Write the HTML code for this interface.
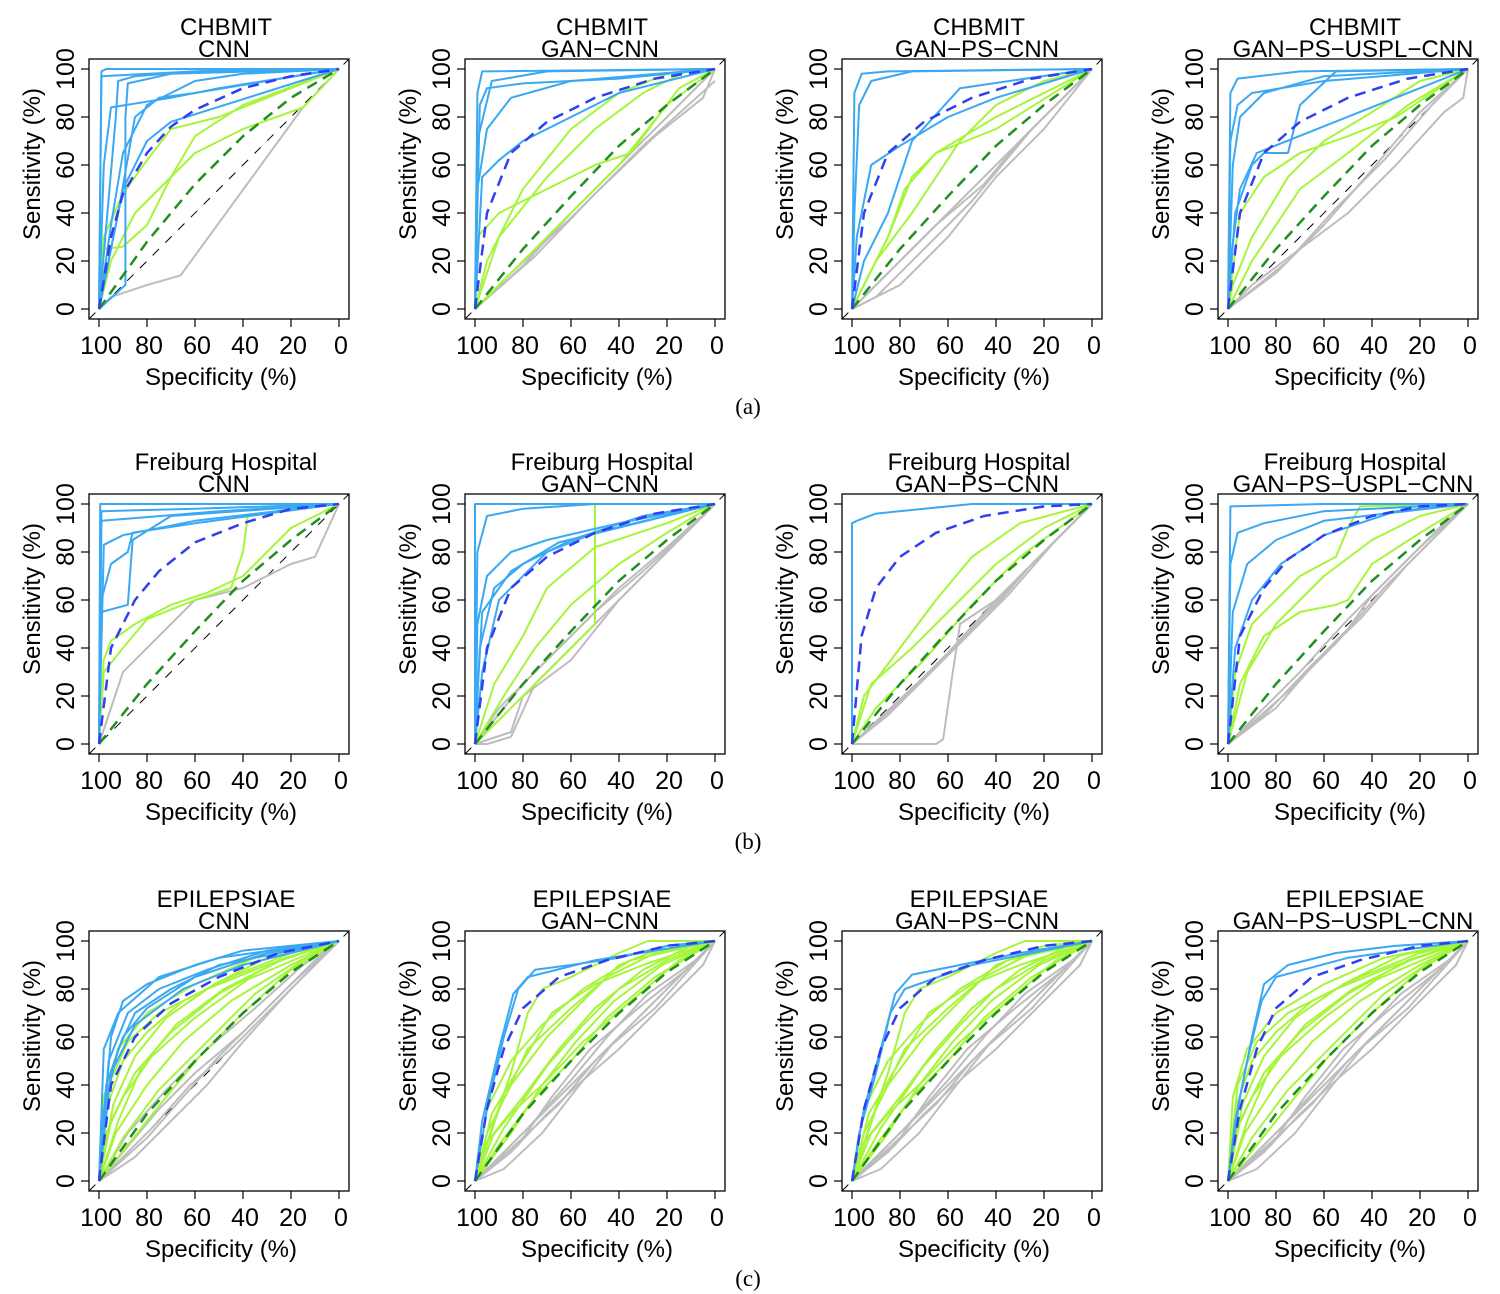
<!DOCTYPE html>
<html><head><meta charset="utf-8"><style>
html,body{margin:0;padding:0;background:#fff;}
svg{display:block;}
text{font-family:"Liberation Sans",sans-serif;fill:#000;}
</style></head><body>
<svg id="fig" width="1500" height="1294" viewBox="0 0 1500 1294" xmlns="http://www.w3.org/2000/svg"></svg>
<script>
const datasets = ["CHBMIT","Freiburg Hospital","EPILEPSIAE"];
const methods = ["CNN","GAN\u2212CNN","GAN\u2212PS\u2212CNN","GAN\u2212PS\u2212USPL\u2212CNN"];
const captions = ["(a)","(b)","(c)"];
const xTicks = [100,80,60,40,20,0];
const yTicks = [0,20,40,60,80,100];

// each curve: list of [specificity, sensitivity]
const blueA1 = [
 [[100,0],[99,99],[97,100],[0,100]],
 [[100,0],[99,97],[60,99],[0,100]],
 [[100,0],[93,80],[92,95],[85,97],[60,99],[0,100]],
 [[100,0],[89,10],[89,80],[88,94],[70,98],[0,100]],
 [[100,0],[98,60],[95,84],[70,88],[50,92],[0,100]],
 [[100,0],[95,35],[90,65],[80,85],[60,95],[40,98],[0,100]],
 [[100,0],[92,40],[85,80],[75,88],[60,90],[0,100]],
 [[100,0],[90,50],[80,70],[70,78],[0,100]]];
const greenA1 = [
 [[100,0],[98,30],[90,48],[80,62],[70,75],[50,80],[0,100]],
 [[100,0],[99,25],[90,26],[80,35],[70,55],[60,72],[40,85],[0,100]],
 [[100,0],[95,20],[85,40],[75,50],[60,65],[40,75],[15,84],[0,100]]];
const grayA1 = [[[100,0],[95,5],[80,10],[66,14],[15,84],[0,100]]];

const blueA2 = [
 [[100,0],[99,90],[97,99],[0,100]],
 [[100,0],[98,85],[95,92],[80,94],[40,96],[0,100]],
 [[100,0],[99,50],[95,75],[85,88],[60,95],[0,100]],
 [[100,0],[97,55],[90,62],[80,70],[60,80],[40,90],[0,100]],
 [[100,0],[99,70],[93,95],[70,99],[0,100]]];
const greenA2 = [
 [[100,0],[99,30],[90,40],[70,50],[50,60],[35,65],[15,92],[0,100]],
 [[100,0],[95,20],[80,50],[60,75],[40,90],[20,98],[0,100]],
 [[100,0],[90,30],[70,55],[50,75],[30,90],[10,100],[0,100]],
 [[100,0],[80,20],[60,40],[40,60],[20,85],[0,100]]];
const grayA2 = [
 [[100,0],[80,18],[60,40],[40,60],[20,80],[0,100]],
 [[100,0],[75,22],[50,48],[25,72],[5,88],[0,100]],
 [[100,0],[85,15],[60,38],[30,68],[0,95]]];

const blueA3 = [
 [[100,0],[99,90],[96,98],[85,99],[0,100]],
 [[100,0],[99,40],[97,85],[92,95],[75,99],[0,100]],
 [[100,0],[98,30],[92,60],[80,68],[60,80],[40,88],[0,100]],
 [[100,0],[95,20],[85,40],[75,70],[55,92],[0,100]]];
const greenA3 = [
 [[100,0],[95,10],[85,30],[78,50],[65,65],[40,75],[0,100]],
 [[100,0],[90,20],[75,40],[55,70],[40,85],[20,95],[0,100]],
 [[100,0],[85,30],[75,55],[65,65],[40,80],[0,100]]];
const grayA3 = [
 [[100,0],[80,10],[60,30],[40,55],[20,75],[0,100]],
 [[100,0],[85,15],[65,35],[45,52],[30,70],[0,100]],
 [[100,0],[75,25],[55,45],[35,65],[15,85],[0,100]],
 [[100,0],[90,5],[70,25],[50,45],[25,75],[0,100]]];

const blueA4 = [
 [[100,0],[99,90],[96,96],[70,99],[0,100]],
 [[100,0],[99,70],[96,85],[90,90],[60,95],[0,100]],
 [[100,0],[98,60],[95,80],[85,90],[60,97],[0,100]],
 [[100,0],[97,40],[90,60],[85,65],[75,65],[70,85],[55,99],[0,100]],
 [[100,0],[99,20],[95,50],[88,65],[0,100]]];
const greenA4 = [
 [[100,0],[95,40],[85,55],[70,65],[50,72],[30,80],[0,100]],
 [[100,0],[98,10],[90,30],[75,55],[60,70],[40,82],[20,95],[0,100]],
 [[100,0],[90,20],[70,50],[50,65],[25,85],[0,100]]];
const grayA4 = [
 [[100,0],[90,10],[70,25],[50,40],[30,60],[10,82],[2,88],[0,100]],
 [[100,0],[80,15],[60,35],[40,58],[20,82],[0,100]],
 [[100,0],[75,20],[55,42],[35,62],[15,85],[0,100]]];

const blueB1 = [
 [[100,0],[99.5,100],[0,100]],
 [[100,0],[99,97],[60,98],[0,100]],
 [[100,0],[99,93],[50,97],[0,100]],
 [[100,0],[98,83],[90,87],[60,93],[0,100]],
 [[100,0],[99,60],[95,75],[88,80],[86,88],[60,92],[0,100]],
 [[100,0],[99,55],[88,58],[86,85],[70,95],[0,100]]];
const greenB1 = [
 [[100,0],[98,30],[90,40],[80,52],[60,60],[45,65],[40,80],[38,95],[20,98],[0,100]],
 [[100,0],[98,35],[95,43],[85,50],[70,58],[55,63],[40,70],[20,90],[0,100]]];
const grayB1 = [[[100,0],[90,30],[75,45],[60,60],[40,65],[20,75],[10,78],[0,100]]];

const blueB2 = [
 [[100,0],[100,100],[0,100]],
 [[100,0],[99,80],[95,95],[80,98],[50,100],[0,100]],
 [[100,0],[99,50],[95,70],[85,80],[70,85],[40,92],[0,100]],
 [[100,0],[98,40],[92,65],[80,75],[60,85],[30,95],[0,100]],
 [[100,0],[97,30],[90,60],[70,80],[50,88],[0,100]],
 [[100,0],[99,20],[97,55],[85,72],[65,84],[0,100]]];
const greenB2 = [
 [[100,0],[90,10],[70,30],[50,50],[50,100],[0,100]],
 [[100,0],[92,25],[80,45],[70,65],[50,82],[20,92],[0,100]],
 [[100,0],[88,20],[75,40],[60,58],[40,75],[20,88],[0,100]]];
const grayB2 = [
 [[100,0],[85,5],[80,20],[60,35],[40,60],[20,80],[0,100]],
 [[100,0],[90,15],[70,35],[50,55],[30,72],[10,90],[0,100]],
 [[100,0],[80,25],[60,45],[40,65],[20,82],[0,100]],
 [[100,0],[95,0],[85,3],[75,25],[55,45],[35,65],[0,100]]];

const blueB3 = [[[100,0],[100,92],[98,93],[90,96],[70,98],[50,100],[0,100]]];
const greenB3 = [
 [[100,0],[95,20],[80,40],[65,60],[50,78],[30,92],[0,100]],
 [[100,0],[92,25],[75,40],[60,55],[40,75],[20,90],[0,100]],
 [[100,0],[90,15],[70,35],[50,58],[30,78],[0,100]]];
const grayB3 = [
 [[100,0],[98,0],[65,0],[62,2],[58,30],[55,50],[40,60],[20,80],[0,100]],
 [[100,0],[80,18],[60,38],[40,60],[20,80],[0,100]],
 [[100,0],[75,22],[55,42],[35,62],[15,85],[0,100]],
 [[100,0],[85,12],[65,32],[45,52],[25,75],[0,100]],
 [[100,0],[70,28],[50,48],[30,70],[10,90],[0,100]]];

const blueB4 = [
 [[100,0],[99,99],[60,100],[0,100]],
 [[100,0],[99,75],[96,88],[85,92],[60,97],[0,100]],
 [[100,0],[98,55],[92,75],[80,85],[60,93],[0,100]],
 [[100,0],[97,40],[90,60],[78,75],[60,87],[30,97],[0,100]]];
const greenB4 = [
 [[100,0],[97,30],[90,50],[80,60],[70,70],[55,78],[50,90],[45,99],[0,100]],
 [[100,0],[95,25],[85,45],[70,55],[55,58],[50,60],[40,75],[20,88],[0,100]],
 [[100,0],[92,30],[80,50],[60,70],[40,85],[20,95],[0,100]]];
const grayB4 = [
 [[100,0],[80,15],[60,38],[50,48],[40,62],[20,82],[0,100]],
 [[100,0],[85,12],[65,33],[45,52],[25,75],[5,95],[0,100]],
 [[100,0],[75,22],[55,42],[35,65],[15,85],[0,100]],
 [[100,0],[70,30],[50,52],[30,72],[10,92],[0,100]]];

const blueC1 = [
 [[100,0],[95,60],[90,75],[80,82],[60,90],[40,96],[0,100]],
 [[100,0],[96,50],[88,70],[75,80],[55,88],[30,96],[0,100]],
 [[100,0],[97,40],[90,60],[80,72],[60,85],[30,95],[0,100]],
 [[100,0],[98,30],[92,55],[85,70],[70,80],[50,90],[0,100]],
 [[100,0],[95,45],[85,65],[65,80],[40,90],[0,100]],
 [[100,0],[98,55],[92,70],[75,85],[50,93],[0,100]]];
const greenC1 = [
 [[100,0],[97,30],[90,50],[80,62],[65,75],[45,85],[20,95],[0,100]],
 [[100,0],[95,25],[85,45],[70,62],[50,78],[25,92],[0,100]],
 [[100,0],[93,20],[80,40],[65,58],[45,75],[20,90],[0,100]],
 [[100,0],[98,35],[92,55],[80,70],[60,82],[35,93],[0,100]],
 [[100,0],[90,18],[75,38],[55,58],[35,78],[15,92],[0,100]],
 [[100,0],[96,40],[88,58],[75,70],[55,80],[30,90],[0,100]],
 [[100,0],[92,25],[82,48],[68,65],[48,80],[22,93],[0,100]],
 [[100,0],[88,15],[72,35],[58,52],[40,70],[20,88],[0,100]],
 [[100,0],[97,20],[90,35],[78,52],[60,68],[38,84],[0,100]],
 [[100,0],[94,32],[85,52],[72,68],[52,82],[28,94],[0,100]]];
const grayC1 = [
 [[100,0],[85,10],[70,25],[55,40],[40,58],[20,80],[0,100]],
 [[100,0],[90,12],[75,30],[60,45],[40,62],[20,82],[0,100]],
 [[100,0],[80,18],[65,35],[50,52],[30,72],[10,92],[0,100]],
 [[100,0],[88,20],[72,38],[55,55],[35,72],[15,90],[0,100]],
 [[100,0],[92,8],[78,22],[62,40],[45,55],[25,75],[0,100]]];

const blueC2 = [
 [[100,0],[95,30],[88,60],[82,80],[75,88],[60,90],[40,93],[20,98],[0,100]],
 [[100,0],[97,25],[90,55],[84,78],[78,85],[50,92],[0,100]]];
const greenC2 = [
 [[100,0],[92,25],[85,45],[78,70],[72,80],[60,85],[40,95],[28,100],[0,100]],
 [[100,0],[95,20],[85,40],[70,60],[55,75],[40,90],[20,98],[0,100]],
 [[100,0],[92,20],[80,35],[65,55],[50,72],[30,88],[10,98],[0,100]],
 [[100,0],[90,15],[75,35],[60,50],[45,68],[25,85],[0,100]],
 [[100,0],[95,30],[85,50],[72,65],[55,80],[35,92],[0,100]],
 [[100,0],[88,22],[70,48],[55,65],[40,80],[20,92],[0,100]],
 [[100,0],[93,28],[80,50],[68,70],[50,82],[30,90],[0,100]],
 [[100,0],[96,15],[85,28],[70,42],[55,58],[35,75],[15,92],[0,100]],
 [[100,0],[90,30],[78,55],[60,72],[45,85],[25,95],[0,100]],
 [[100,0],[85,20],[72,40],[58,58],[42,75],[22,90],[0,100]]];
const grayC2 = [
 [[100,0],[85,12],[70,28],[55,42],[40,55],[20,75],[5,90],[0,100]],
 [[100,0],[80,18],[65,32],[50,50],[35,65],[15,85],[0,100]],
 [[100,0],[90,10],[75,25],[60,40],[45,55],[25,72],[0,100]],
 [[100,0],[82,15],[68,35],[52,55],[32,72],[12,88],[0,100]],
 [[100,0],[88,5],[72,20],[58,38],[42,58],[22,78],[0,100]],
 [[100,0],[78,22],[60,42],[45,60],[28,78],[8,92],[0,100]]];

const blueC3 = [
 [[100,0],[95,30],[88,55],[82,78],[75,86],[55,90],[30,95],[0,100]],
 [[100,0],[97,20],[90,45],[84,70],[78,80],[50,90],[0,100]]];
const blueC4 = [
 [[100,0],[95,35],[90,60],[85,82],[75,90],[55,95],[30,98],[0,100]],
 [[100,0],[97,25],[92,50],[86,75],[80,85],[50,93],[0,100]]];

const meanBlueStd = [[100,0],[95,40],[85,65],[70,78],[50,88],[25,96],[0,100]];
const meanBlueA1 = [[100,0],[95,30],[90,48],[80,65],[70,76],[60,83],[40,92],[20,97],[0,100]];
const meanBlueB1 = [[100,0],[95,40],[85,60],[75,72],[60,84],[40,92],[20,98],[0,100]];
const meanBlueB3 = [[100,0],[96,45],[90,65],[80,78],[65,88],[45,95],[20,99],[0,100]];
const meanBlueB4 = [[100,0],[95,45],[85,65],[75,77],[60,87],[40,95],[20,99],[0,100]];
const meanBlueC1 = [[100,0],[95,40],[85,60],[70,74],[50,85],[25,95],[0,100]];
const meanBlueC2 = [[100,0],[95,30],[88,55],[80,72],[65,85],[45,92],[20,98],[0,100]];
const meanGreenStd = [[100,0],[80,25],[60,47],[40,68],[20,85],[0,100]];
const meanGreenA1 = [[100,0],[80,28],[60,52],[40,72],[20,88],[0,100]];
const meanGreenC = [[100,0],[80,28],[60,50],[40,70],[20,87],[0,100]];

const panels = [
 [blueA1,greenA1,grayA1,meanBlueA1,meanGreenA1],
 [blueA2,greenA2,grayA2,meanBlueStd,meanGreenStd],
 [blueA3,greenA3,grayA3,meanBlueStd,meanGreenStd],
 [blueA4,greenA4,grayA4,meanBlueStd,meanGreenStd],
 [blueB1,greenB1,grayB1,meanBlueB1,meanGreenStd],
 [blueB2,greenB2,grayB2,meanBlueStd,meanGreenStd],
 [blueB3,greenB3,grayB3,meanBlueB3,meanGreenStd],
 [blueB4,greenB4,grayB4,meanBlueB4,meanGreenStd],
 [blueC1,greenC1,grayC1,meanBlueC1,meanGreenC],
 [blueC2,greenC2,grayC2,meanBlueC2,meanGreenC],
 [blueC3,greenC2,grayC2,meanBlueC2,meanGreenC],
 [blueC4,greenC1,grayC2,meanBlueC2,meanGreenC]];

const NS = "http://www.w3.org/2000/svg";
const svg = document.getElementById("fig");
const colLeft = [89,465,842,1218];
const rowTop = [59,494,931];
function mk(tag, attrs, parent){const e=document.createElementNS(NS,tag);for(const k in attrs)e.setAttribute(k,attrs[k]);(parent||svg).appendChild(e);return e;}

for(let r=0;r<3;r++){
 for(let c=0;c<4;c++){
  const bx=colLeft[c], by=rowTop[r];
  const xs=v=>bx+10+(100-v)*2.4, ys=v=>by+10+(100-v)*2.4;
  const g=mk("g",{});
  
  
  const pd=panels[r*4+c];
  const line=(pts,col,w,dash,name)=>{
   const p=mk("polyline",{points:pts.map(q=>xs(q[0]).toFixed(1)+","+ys(q[1]).toFixed(1)).join(" "),fill:"none",stroke:col,"stroke-width":w,"stroke-linejoin":"round"},g);
   if(dash)p.setAttribute("stroke-dasharray",dash);
   
   
  };
  const d=mk("line",{x1:bx,y1:by+260,x2:bx+260,y2:by,stroke:"#000","stroke-width":1,"stroke-dasharray":"9,9"},g);
  
  
  pd[2].forEach(s=>line(s,"#bdbdbd",2,null,"gray-roc-curve"));
  pd[1].forEach(s=>line(s,"#a6f53a",2,null,"green-roc-curve"));
  pd[0].forEach(s=>line(s,"#3aa8f2",2,null,"blue-roc-curve"));
  line(pd[4],"#1f8f1f",2.5,"11,7","mean-green-curve");
  line(pd[3],"#3040f0",2.5,"11,7","mean-blue-curve");
  const box=mk("rect",{x:bx,y:by,width:260,height:260,fill:"none",stroke:"#000","stroke-width":1.3},g);
  
  
  xTicks.forEach(t=>{
   mk("line",{x1:xs(t),y1:by+260,x2:xs(t),y2:by+268,stroke:"#000","stroke-width":1.2},g);
   const tx=mk("text",{x:xs(t)+2,y:by+295,"text-anchor":"middle","font-size":25},g);
   tx.textContent=t;
   
   
  });
  yTicks.forEach(t=>{
   mk("line",{x1:bx-8,y1:ys(t),x2:bx,y2:ys(t),stroke:"#000","stroke-width":1.2},g);
   const tx=mk("text",{x:0,y:0,"text-anchor":"middle","font-size":25,transform:`translate(${bx-15},${ys(t)}) rotate(-90)`},g);
   tx.textContent=t;
   
   
  });
  const xl=mk("text",{x:bx+132,y:by+326,"text-anchor":"middle","font-size":24},g);
  xl.textContent="Specificity (%)";
  
  
  const yl=mk("text",{x:0,y:0,"text-anchor":"middle","font-size":24,transform:`translate(${bx-49},${by+105}) rotate(-90)`},g);
  yl.textContent="Sensitivity (%)";
  
  
  const t1=mk("text",{x:bx+137,y:by-24,"text-anchor":"middle","font-size":24},g);
  t1.textContent=datasets[r];
  
  
  const t2=mk("text",{x:bx+135,y:by-2,"text-anchor":"middle","font-size":24},g);
  t2.textContent=methods[c];
  
  
 }
 const cap=mk("text",{x:748,y:rowTop[r]+355,"text-anchor":"middle","font-size":23,style:"font-family:'Liberation Serif',serif"});
 cap.textContent=captions[r];
 
 
}
</script>
</body></html>
